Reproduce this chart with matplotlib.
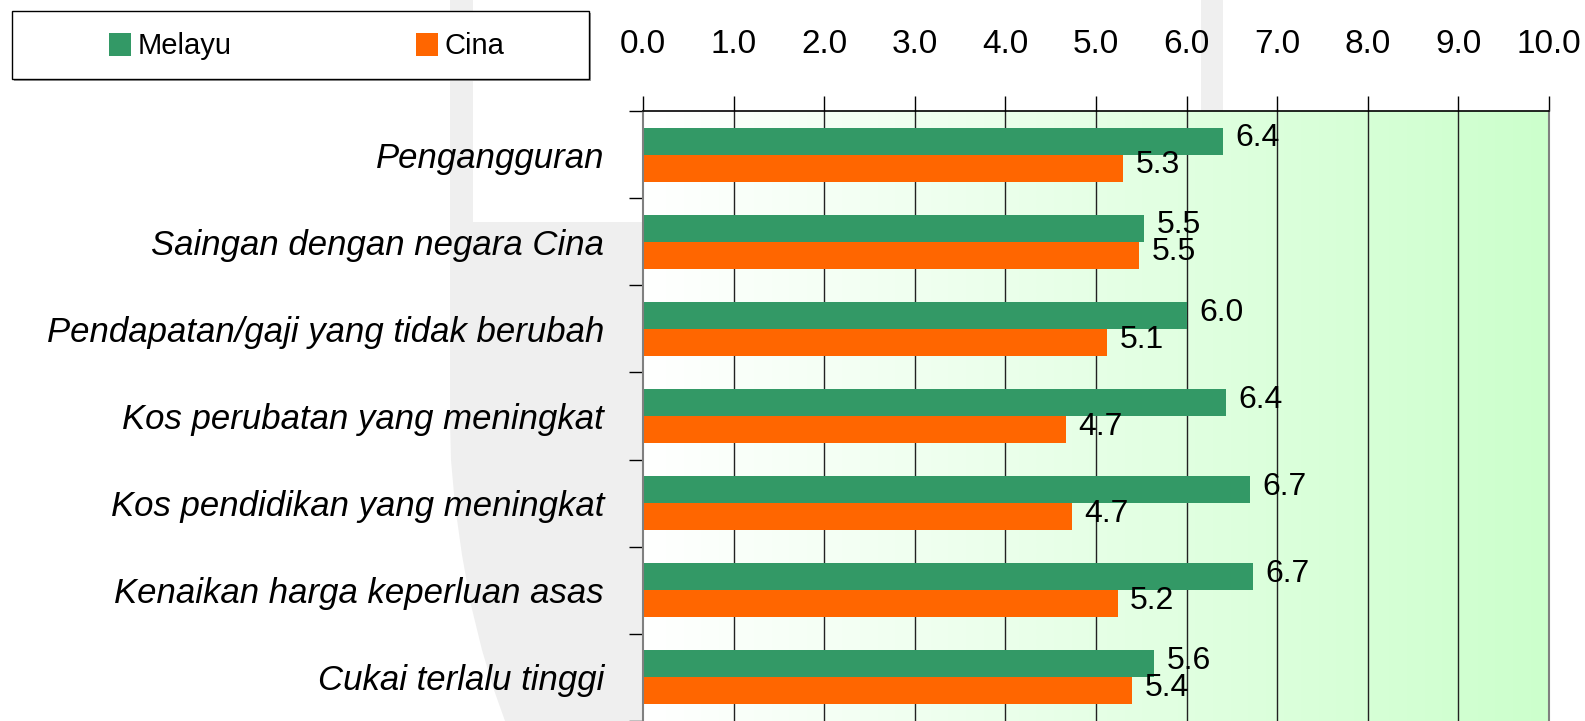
import matplotlib
matplotlib.use("Agg")
import matplotlib.pyplot as plt
import numpy as np
from matplotlib.patches import Polygon, Rectangle, Patch
from matplotlib.colors import LinearSegmentedColormap

# ---------------- data ----------------
categories = [
    "Pengangguran",
    "Saingan dengan negara Cina",
    "Pendapatan/gaji yang tidak berubah",
    "Kos perubatan yang meningkat",
    "Kos pendidikan yang meningkat",
    "Kenaikan harga keperluan asas",
    "Cukai terlalu tinggi",
]
melayu = [6.40, 5.53, 6.00, 6.43, 6.70, 6.73, 5.64]
cina = [5.30, 5.48, 5.12, 4.67, 4.73, 5.24, 5.40]
series_names = ["Melayu", "Cina"]
xticks = [0, 1, 2, 3, 4, 5, 6, 7, 8, 9, 10]

GREEN = "#339966"
ORANGE = "#FF6600"
NARROW = ["Liberation Sans", "DejaVu Sans"]

W, H = 1585, 721
fig = plt.figure(figsize=(W / 100, H / 100), dpi=100)
fig.patch.set_facecolor("white")

def fx(px):
    return px / W

def fy(py):
    return 1 - py / H

# ---------------- watermark (decorative) ----------------
wm_pts = [(450, 0), (473, 0), (473, 222), (1201, 222), (1201, 0), (1223, 0),
          (1223, 721), (505, 721), (494, 690), (482, 650), (471, 605),
          (462, 555), (455, 505), (451, 460), (450, 420)]
wm = Polygon([(fx(x), fy(y)) for x, y in wm_pts], closed=True,
             transform=fig.transFigure, facecolor="#efefef", edgecolor="none",
             zorder=-5)
fig.add_artist(wm)

# ---------------- axes ----------------
ax_left, ax_right, ax_top = 643, 1549, 111
ax = fig.add_axes([fx(ax_left), 0.0, fx(ax_right) - fx(ax_left), fy(ax_top)])
ax.set_zorder(1)

n = len(categories)
y = np.arange(n)
bh = 0.31

# gradient background
cmap = LinearSegmentedColormap.from_list("g", ["#ffffff", "#ccffcc"])
grad = np.linspace(0, 1, 256).reshape(1, -1)
ax.imshow(grad, extent=[0, 10, n - 0.5, -0.5], aspect="auto", cmap=cmap,
          zorder=0, interpolation="bilinear")

# gridlines
for xv in xticks[1:-1]:
    ax.axvline(xv, color="#222222", lw=1.0, zorder=1)

b1 = ax.barh(y - bh / 2, melayu, height=bh, color=GREEN, zorder=2)
b2 = ax.barh(y + bh / 2, cina, height=bh, color=ORANGE, zorder=2)

for bars, vals in ((b1, melayu), (b2, cina)):
    for rect, v in zip(bars, vals):
        ax.annotate(f"{v:.1f}", xy=(v, rect.get_y() + rect.get_height() / 2),
                    xytext=(9, 2), textcoords="offset points",
                    ha="left", va="center", fontsize=23, family=NARROW,
                    color="black", zorder=3, annotation_clip=False)

ax.set_xlim(0, 10)
ax.set_ylim(n - 0.5, -0.5)

# x ticks on top
ax.xaxis.tick_top()
ax.set_xticks(xticks)
ax.set_xticklabels([f"{v:.1f}" for v in xticks], family=NARROW, fontsize=24)
ax.tick_params(axis="x", which="major", direction="out", length=11, width=1,
               color="black", pad=26, top=True, bottom=False)

# y ticks: separators (major, no labels), labels at centers (minor)
ax.set_yticks(np.arange(-0.5, n, 1.0))
ax.set_yticklabels([])
ax.set_yticks(y, minor=True)
ax.set_yticklabels(categories, minor=True, family=NARROW, fontsize=25,
                   style="italic")
ax.tick_params(axis="y", which="major", direction="out", length=10, width=1,
               color="black", left=True)
ax.tick_params(axis="y", which="minor", length=0, pad=28)

for side, sp in ax.spines.items():
    sp.set_zorder(4)
ax.spines["top"].set_color("black")
ax.spines["top"].set_linewidth(1.2)
ax.spines["left"].set_color("#808080")
ax.spines["left"].set_linewidth(1.5)
ax.spines["right"].set_color("#808080")
ax.spines["right"].set_linewidth(1.5)
ax.spines["bottom"].set_visible(False)

# ---------------- legend ----------------
shadow = Rectangle((fx(14), fy(81)), fx(589) - fx(12), fy(11) - fy(79),
                   transform=fig.transFigure, facecolor="#9a9a9a",
                   edgecolor="none", zorder=1)
fig.add_artist(shadow)
frame = Rectangle((fx(12), fy(79)), fx(589) - fx(12), fy(11) - fy(79),
                  transform=fig.transFigure, facecolor="white",
                  edgecolor="black", lw=1.0, zorder=2)
fig.add_artist(frame)

fs_leg = 21
fs_px = fs_leg * 100 / 72
handles = [Patch(facecolor=GREEN, edgecolor="none"),
           Patch(facecolor=ORANGE, edgecolor="none")]
leg = fig.legend(handles, series_names, loc="center left",
                 bbox_to_anchor=(fx(109), fy(46.5)), frameon=False,
                 borderpad=0, borderaxespad=0, ncol=2,
                 handlelength=22 / fs_px, handleheight=25 / fs_px,
                 handletextpad=7 / fs_px, columnspacing=184 / fs_px,
                 prop={"family": NARROW, "size": fs_leg})
leg.set_zorder(5)

fig.savefig("out.png", dpi=100)
